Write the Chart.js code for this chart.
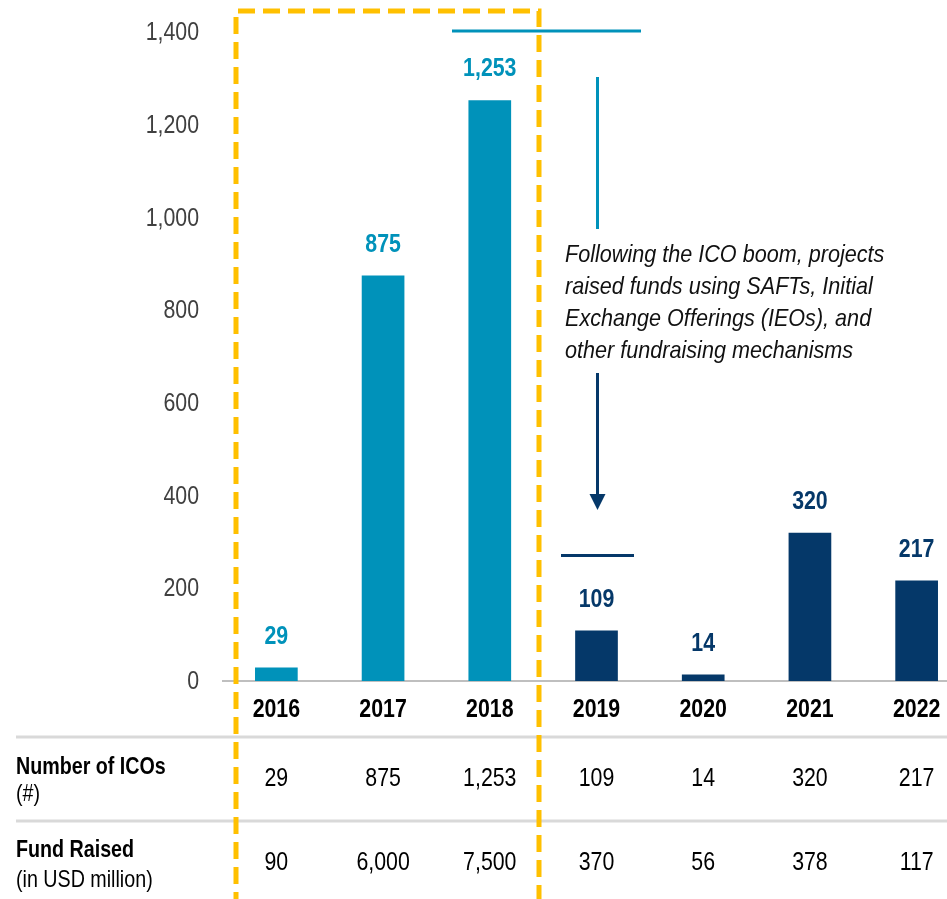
<!DOCTYPE html>
<html>
<head>
<meta charset="utf-8">
<script src="https://cdn.jsdelivr.net/npm/chart.js@4"></script>
<style>
  html, body { margin: 0; padding: 0; background: #fff; overflow: hidden; }
  #wrap { width: 970px; height: 899px; position: relative; }
</style>
</head>
<body>
<div id="wrap"><canvas id="c"></canvas></div>
<script>
// Yearly ICO activity
const years = ['2016', '2017', '2018', '2019', '2020', '2021', '2022'];
const icoCounts = [29, 875, 1253, 109, 14, 320, 217];
const fundsRaised = [90, 6000, 7500, 370, 56, 378, 117];
const yTicks = [0, 200, 400, 600, 800, 1000, 1200, 1400];
const rowLabels = [['Number of ICOs', '(#)'], ['Fund Raised', '(in USD million)']];
const noteLines = [
  'Following the ICO boom, projects',
  'raised funds using SAFTs, Initial',
  'Exchange Offerings (IEOs), and',
  'other fundraising mechanisms'
];

const TEAL = '#0092BA';
const NAVY = '#053869';
const GOLD = '#FFC000';
const FAMILY = '"Liberation Sans", Arial, sans-serif';
const NARROW = 0.82;   // horizontal squeeze for a condensed look
const fmt = v => v.toLocaleString('en-US');

// draw condensed text: squeeze horizontally around the anchor point
function text(ctx, str, x, y, font, color, align, baseline, sx) {
  ctx.save();
  ctx.translate(x, y);
  ctx.scale(sx || NARROW, 1);
  ctx.font = font;
  ctx.fillStyle = color;
  ctx.textAlign = align || 'center';
  ctx.textBaseline = baseline || 'middle';
  ctx.fillText(str, 0, 0);
  ctx.restore();
}

// Axis labels in condensed type
const axisText = {
  id: 'axisText',
  afterDraw(chart) {
    const ctx = chart.ctx;
    const xs = chart.scales.x, ys = chart.scales.y;
    ys.ticks.forEach(t => {
      text(ctx, fmt(t.value), ys.right - 24, ys.getPixelForValue(t.value) + 1,
        '26px ' + FAMILY, '#404040', 'right');
    });
    years.forEach((y, i) => {
      text(ctx, y, xs.getPixelForValue(i), 710, 'bold 26px ' + FAMILY, '#000');
    });
  }
};

// Value labels above bars
const valueLabels = {
  id: 'valueLabels',
  afterDatasetsDraw(chart) {
    const ctx = chart.ctx;
    chart.getDatasetMeta(0).data.forEach((bar, i) => {
      text(ctx, fmt(icoCounts[i]), bar.x, bar.y - 31, 'bold 26px ' + FAMILY, i < 3 ? TEAL : NAVY);
    });
  }
};

// Data table under the axis, callout and highlight frame
const extras = {
  id: 'extras',
  afterDraw(chart) {
    const ctx = chart.ctx;
    const x = chart.scales.x;
    const W = chart.width;
    ctx.save();

    // table separators
    ctx.strokeStyle = '#d9d9d9';
    ctx.lineWidth = 3;
    [737, 821].forEach(y => {
      ctx.beginPath(); ctx.moveTo(16, y); ctx.lineTo(W, y); ctx.stroke();
    });

    // row headers
    const rowY = [[767, 794], [850, 880]];
    rowLabels.forEach((pair, r) => {
      text(ctx, pair[0], 16, rowY[r][0], 'bold 24px ' + FAMILY, '#000', 'left');
      text(ctx, pair[1], 16, rowY[r][1], '24px ' + FAMILY, '#000', 'left');
    });

    // row values
    [icoCounts, fundsRaised].forEach((arr, r) => {
      const y = r === 0 ? 779 : 863;
      arr.forEach((v, i) => text(ctx, fmt(v), x.getPixelForValue(i), y, '26px ' + FAMILY, '#000'));
    });

    // callout
    const cx = x.getPixelForValue(3) + 1;
    ctx.strokeStyle = TEAL;
    ctx.lineWidth = 3;
    ctx.beginPath(); ctx.moveTo(452, 31); ctx.lineTo(641, 31); ctx.stroke();
    ctx.beginPath(); ctx.moveTo(cx, 77); ctx.lineTo(cx, 229); ctx.stroke();

    noteLines.forEach((t, i) =>
      text(ctx, t, 565, 262 + i * 32, 'italic 24px ' + FAMILY, '#111', 'left', 'alphabetic', 0.9));

    ctx.strokeStyle = NAVY;
    ctx.fillStyle = NAVY;
    ctx.beginPath(); ctx.moveTo(cx, 373); ctx.lineTo(cx, 497); ctx.stroke();
    ctx.beginPath();
    ctx.moveTo(cx - 8, 494); ctx.lineTo(cx + 8, 494); ctx.lineTo(cx, 510);
    ctx.closePath(); ctx.fill();
    ctx.beginPath(); ctx.moveTo(561, 555.5); ctx.lineTo(634, 555.5); ctx.stroke();

    // highlight frame around the boom years
    ctx.strokeStyle = GOLD;
    ctx.lineWidth = 5;
    ctx.setLineDash([17, 8]);
    ctx.beginPath();
    ctx.moveTo(236, chart.height + 10);
    ctx.lineTo(236, 11);
    ctx.lineTo(539, 11);
    ctx.lineTo(539, chart.height + 10);
    ctx.stroke();
    ctx.restore();
  }
};

new Chart(document.getElementById('c'), {
  type: 'bar',
  data: {
    labels: years,
    datasets: [{
      data: icoCounts,
      backgroundColor: ctx => ctx.dataIndex < 3 ? TEAL : NAVY,
      barPercentage: 0.4,
      categoryPercentage: 1.0,
      borderWidth: 0
    }]
  },
  options: {
    responsive: true,
    maintainAspectRatio: false,
    animation: false,
    events: [],
    layout: { padding: { top: 32, left: 0, right: 0, bottom: 0 } },
    plugins: { legend: { display: false }, tooltip: { enabled: false } },
    scales: {
      x: {
        grid: { display: false, drawTicks: false },
        border: { display: true, color: '#bfbfbf', width: 2 },
        ticks: { display: false },
        afterFit: s => { s.height = 218; }
      },
      y: {
        min: 0,
        max: 1400,
        grid: { display: false, drawTicks: false },
        border: { display: false },
        afterBuildTicks: s => { s.ticks = yTicks.map(v => ({ value: v })); },
        ticks: { display: false },
        afterFit: s => { s.width = 223; }
      }
    }
  },
  plugins: [valueLabels, axisText, extras]
});
</script>
</body>
</html>
